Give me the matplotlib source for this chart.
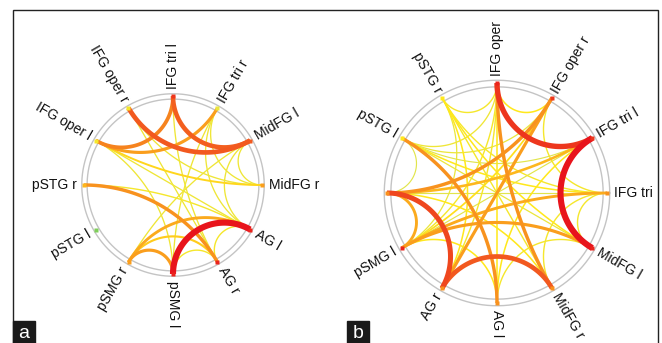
import numpy as np
import matplotlib
matplotlib.use("Agg")
import matplotlib.pyplot as plt
from matplotlib.colors import LinearSegmentedColormap
from matplotlib.patches import Rectangle

plt.rcParams['font.family'] = ['Liberation Sans', 'DejaVu Sans']

# node labels, counter-clockwise from the top (90 deg), 30 deg apart
labels_a = ["IFG tri l", "IFG tri r", "MidFG l", "MidFG r", "AG l", "AG r",
            "pSMG l", "pSMG r", "pSTG l", "pSTG r", "IFG oper l", "IFG oper r"]
node_w_a = [0.9, 0.1, 0.8, 0.55, 0.95, 0.95, 0.95, 0.55, -1, 0.45, 0.15, 0.15]

src_a = [11, 10, 0, 0, 6, 9, 7, 7, 7, 6, 5, 10, 10, 10, 11, 1, 1, 1, 2, 2, 0, 9, 2, 11]
dst_a = [2, 1, 10, 2, 4, 5, 6, 4, 5, 5, 4, 4, 3, 6, 5, 3, 4, 6, 3, 4, 5, 4, 7, 3]
wt_a = [0.8, 0.55, 0.65, 0.78, 1.0, 0.6, 0.55, 0.5, 0.35, 0.15, 0.15, 0.12, 0.3, 0.12,
        0.12, 0.12, 0.12, 0.12, 0.12, 0.12, 0.12, 0.15, 0.12, 0.12]

labels_b = ["IFG oper", "IFG oper r", "IFG tri l", "IFG tri", "MidFG l", "MidFG r",
            "AG l", "AG r", "pSMG l", "", "pSTG l", "pSTG r"]
node_w_b = [0.95, 0.9, 0.9, 0.6, 0.95, 0.6, 0.6, 0.6, 0.95, 0.6, 0.2, 0.2]

src_b = [0, 2, 9, 7, 10, 1, 1, 0, 3, 4, 2, 9,
         0, 0, 0, 0, 0, 0, 1, 1, 1, 2, 2, 2, 3, 3, 3, 3,
         4, 4, 4, 5, 5, 6, 7, 8, 11, 10]
dst_b = [2, 4, 7, 5, 6, 9, 7, 5, 8, 8, 9, 8,
         6, 7, 8, 10, 11, 1, 3, 8, 10, 8, 10, 6, 9, 10, 5, 4,
         10, 11, 6, 9, 11, 8, 11, 11, 3, 9]
wt_b = [0.9, 1.0, 0.85, 0.8, 0.6, 0.6, 0.55, 0.6, 0.5, 0.55, 0.45, 0.5,
        0.2, 0.15, 0.15, 0.12, 0.15, 0.2, 0.15, 0.25, 0.1, 0.05, 0.05, 0.2, 0.05, 0.2, 0.15, 0.15,
        0.1, 0.2, 0.15, 0.2, 0.15, 0.2, 0.2, 0.1, 0.15, 0.05]

cmap = LinearSegmentedColormap.from_list(
    "yr", ["#d8e45a", "#ffe81c", "#ffc31c", "#f8921e", "#f2591f", "#e8141c"])


def chord(t1, t2):
    p1 = np.array([np.cos(t1), np.sin(t1)])
    p2 = np.array([np.cos(t2), np.sin(t2)])
    d = np.angle(np.exp(1j * (t2 - t1)))
    if abs(abs(d) - np.pi) < 1e-6:
        return np.array([p1[0], p2[0]]), np.array([p1[1], p2[1]])
    m = t1 + d / 2
    c = np.array([np.cos(m), np.sin(m)]) / np.cos(d / 2)
    r = abs(np.tan(d / 2))
    a1 = np.arctan2(*(p1 - c)[::-1])
    a2 = np.arctan2(*(p2 - c)[::-1])
    da = np.angle(np.exp(1j * (a2 - a1)))
    s = a1 + da * np.linspace(0, 1, 120)
    return c[0] + r * np.cos(s), c[1] + r * np.sin(s)


def draw(ax, labels, node_w, src, dst, wt, lab_r):
    n = len(labels)
    th = np.deg2rad(90 - 360.0 / n * np.arange(n))
    tt = np.linspace(0, 2 * np.pi, 400)
    for rr in (0.965, 1.025):
        ax.plot(rr * np.cos(tt), rr * np.sin(tt), color="#c4c4c4", lw=1.0, zorder=1)
    order = np.argsort(wt)
    for k in order:
        x, y = chord(th[src[k]], th[dst[k]])
        ax.plot(x, y, color=cmap(wt[k]), lw=0.8 + 3.6 * wt[k] ** 1.5,
                solid_capstyle="butt", zorder=2 + wt[k])
    for i in range(n):
        col = "#7fcf5a" if node_w[i] < 0 else cmap(node_w[i])
        ax.plot(np.cos(th[i]), np.sin(th[i]), marker="s", ms=3.5, color=col,
                mec="none", zorder=5)
        deg = np.rad2deg(th[i])
        deg = (deg + 180) % 360 - 180
        if -90 <= deg <= 90:
            rot, ha = deg, "left"
        else:
            rot, ha = deg - 180, "right"
        ax.text(lab_r * np.cos(th[i]), lab_r * np.sin(th[i]), labels[i],
                rotation=rot, ha=ha, va="center", rotation_mode="anchor",
                fontsize=10, color="#111111", clip_on=False)


W, H = 662, 343
fig = plt.figure(figsize=(W / 100, H / 100), dpi=100)


def make_ax(x0, x1, y0, y1, cx, cy, R):
    ax = fig.add_axes([x0 / W, 1 - y1 / H, (x1 - x0) / W, (y1 - y0) / H])
    ax.set_xlim((x0 - cx) / R, (x1 - cx) / R)
    ax.set_ylim((cy - y1) / R, (cy - y0) / R)
    ax.axis("off")
    return ax


ax_a = make_ax(14, 331, 10, 343, 173, 185, 89)
draw(ax_a, labels_a, node_w_a, src_a, dst_a, wt_a, 1.08)
ax_b = make_ax(331, 657, 10, 343, 497, 193, 110)
draw(ax_b, labels_b, node_w_b, src_b, dst_b, wt_b, 1.06)

fig.patches.append(Rectangle((13 / W, -0.1), 645 / W, 1.1 - 9.5 / H,
                             transform=fig.transFigure, fill=False,
                             ec="#222222", lw=1.0))
for x0, lab in ((13, "a"), (347, "b")):
    fig.patches.append(Rectangle((x0 / W, 0), 22 / W, 22 / H,
                                 transform=fig.transFigure, color="#1a1a1a"))
    fig.text((x0 + 11) / W, 10 / H, lab, color="white", fontsize=14,
             ha="center", va="center")

fig.savefig("out.png", dpi=100)
